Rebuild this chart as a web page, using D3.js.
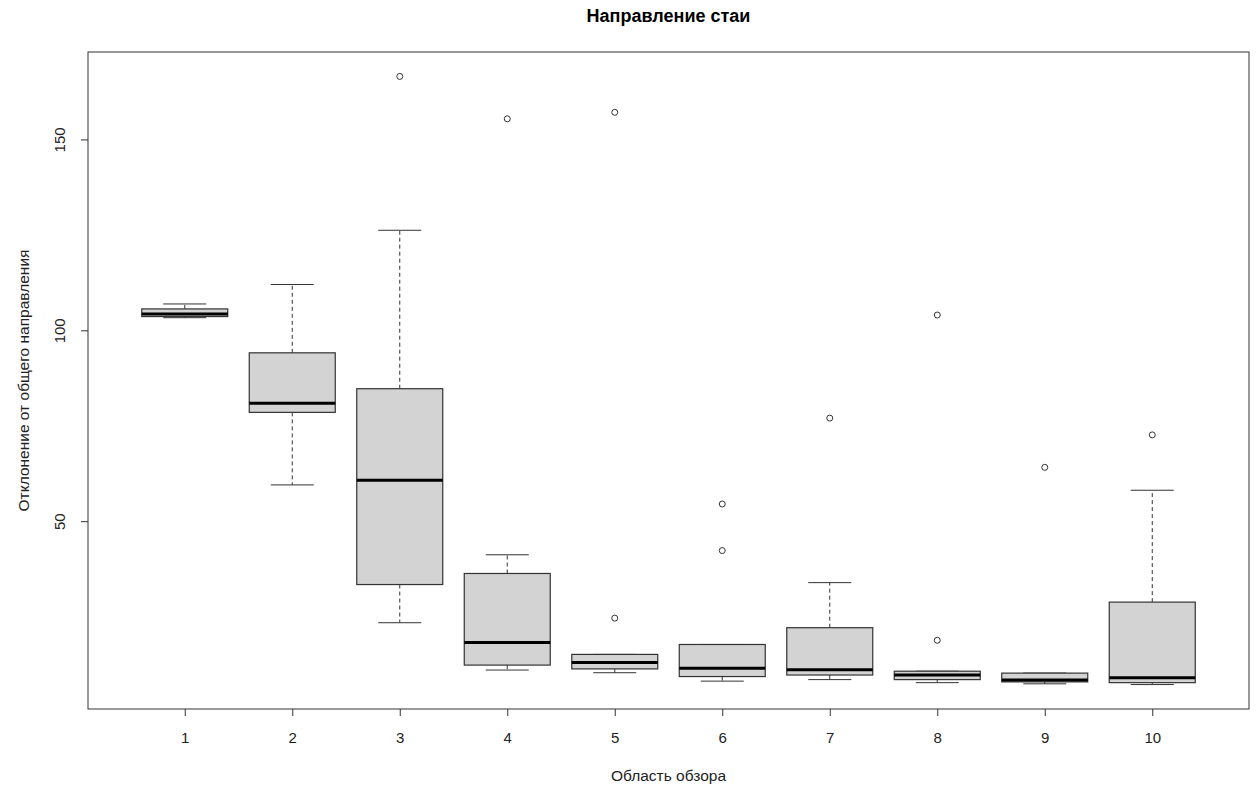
<!DOCTYPE html>
<html lang="ru">
  <head>
    <meta charset="UTF-8" />
    <script src="https://cdn.jsdelivr.net/npm/d3@7"></script>
    <title>Направление стаи</title>
    <style>
      body {
        margin: 0;
        background: white;
      }
      text {
        font-family: "Liberation Sans", Arial, sans-serif;
        fill: #222;
      }
    </style>
  </head>
  <body>
    <script>
      // ---- data ----
      const areas = ["1", "2", "3", "4", "5", "6", "7", "8", "9", "10"];
      const lowerWhisker = [103.3, 59.5, 23.4, 11.0, 10.3, 8.1, 8.5, 7.7, 7.4, 7.2];
      const q1 = [103.6, 78.5, 33.4, 12.3, 11.3, 9.3, 9.7, 8.5, 7.9, 7.7];
      const median = [104.3, 80.9, 60.7, 18.2, 13.0, 11.5, 11.1, 9.7, 8.4, 9.0];
      const q3 = [105.6, 94.1, 84.7, 36.3, 15.1, 17.7, 22.1, 10.7, 10.2, 28.8];
      const upperWhisker = [106.9, 112.0, 126.2, 41.2, 15.1, 17.7, 33.9, 10.7, 10.2, 58.1];
      const outliers = [[], [], [166.5], [155.4], [157.1, 24.6], [54.5, 42.3], [77.0], [104.0, 18.8], [64.1], [72.6]];
      const yTicks = [50, 100, 150];

      const width = 1258, height = 785;
      const plot = { left: 88, right: 1249, top: 52, bottom: 709 };

      const svg = d3.select("body").append("svg")
        .attr("width", width).attr("height", height);

      // R style: x range 0.5..n+0.5 extended by 4%
      const x = d3.scaleLinear().domain([0.1, 10.9]).range([plot.left, plot.right]);
      const y = d3.scaleLinear().domain([0.8, 172.9]).range([plot.bottom, plot.top]);

      const boxW = (x(2) - x(1)) * 0.8;
      const capW = boxW / 2;

      const boxes = areas.map((a, i) => ({
        name: a, pos: i + 1,
        lo: lowerWhisker[i], q1: q1[i], med: median[i], q3: q3[i], hi: upperWhisker[i],
        out: outliers[i]
      }));

      const g = svg.append("g");
      const stroke = "#333";

      const box = g.selectAll("g.box").data(boxes).enter().append("g").attr("class", "box");

      // whiskers (dashed)
      box.append("line")
        .attr("x1", d => x(d.pos)).attr("x2", d => x(d.pos))
        .attr("y1", d => y(d.q3)).attr("y2", d => y(d.hi))
        .attr("stroke", stroke).attr("stroke-dasharray", "4,3");
      box.append("line")
        .attr("x1", d => x(d.pos)).attr("x2", d => x(d.pos))
        .attr("y1", d => y(d.q1)).attr("y2", d => y(d.lo))
        .attr("stroke", stroke).attr("stroke-dasharray", "4,3");

      // caps
      box.append("line")
        .attr("x1", d => x(d.pos) - capW / 2).attr("x2", d => x(d.pos) + capW / 2)
        .attr("y1", d => y(d.hi)).attr("y2", d => y(d.hi))
        .attr("stroke", stroke);
      box.append("line")
        .attr("x1", d => x(d.pos) - capW / 2).attr("x2", d => x(d.pos) + capW / 2)
        .attr("y1", d => y(d.lo)).attr("y2", d => y(d.lo))
        .attr("stroke", stroke);

      // boxes
      box.append("rect")
        .attr("x", d => x(d.pos) - boxW / 2)
        .attr("width", boxW)
        .attr("y", d => y(d.q3))
        .attr("height", d => y(d.q1) - y(d.q3))
        .attr("fill", "#d3d3d3")
        .attr("stroke", stroke).attr("stroke-width", 1.2);

      // medians
      box.append("line")
        .attr("x1", d => x(d.pos) - boxW / 2).attr("x2", d => x(d.pos) + boxW / 2)
        .attr("y1", d => y(d.med)).attr("y2", d => y(d.med))
        .attr("stroke", "black").attr("stroke-width", 3);

      // outliers
      box.selectAll("circle").data(d => d.out.map(v => ({ pos: d.pos, v })))
        .enter().append("circle")
        .attr("cx", d => x(d.pos)).attr("cy", d => y(d.v))
        .attr("r", 3).attr("fill", "none").attr("stroke", stroke);

      // frame
      svg.append("rect")
        .attr("x", plot.left).attr("y", plot.top)
        .attr("width", plot.right - plot.left).attr("height", plot.bottom - plot.top)
        .attr("fill", "none").attr("stroke", stroke);

      // x axis
      const xAxis = svg.append("g")
        .attr("transform", `translate(0,${plot.bottom})`)
        .call(d3.axisBottom(x).tickValues(d3.range(1, 11)).tickFormat(d => areas[d - 1]).tickSize(7));
      xAxis.select(".domain").remove();
      xAxis.selectAll("line").attr("stroke", stroke);
      xAxis.selectAll("text")
        .attr("y", 34).attr("dy", null)
        .attr("font-size", 15).style("fill", "#222");

      // y axis (labels rotated, R default)
      const yAxis = svg.append("g")
        .attr("transform", `translate(${plot.left},0)`)
        .call(d3.axisLeft(y).tickValues(yTicks).tickSize(7).tickFormat(d3.format("d")));
      yAxis.select(".domain").remove();
      yAxis.selectAll("line").attr("stroke", stroke);
      yAxis.selectAll("text")
        .attr("x", null).attr("dy", null)
        .attr("text-anchor", "middle")
        .attr("font-size", 15).style("fill", "#222")
        .attr("transform", "translate(-23,0) rotate(-90)");

      // titles
      svg.append("text")
        .attr("x", (plot.left + plot.right) / 2).attr("y", 22)
        .attr("text-anchor", "middle")
        .attr("font-size", 18).attr("font-weight", "bold")
        .style("fill", "black")
        .text("Направление стаи");

      svg.append("text")
        .attr("x", (plot.left + plot.right) / 2).attr("y", 781)
        .attr("text-anchor", "middle")
        .attr("font-size", 15.5)
        .text("Область обзора");

      svg.append("text")
        .attr("transform", `translate(29,${(plot.top + plot.bottom) / 2}) rotate(-90)`)
        .attr("text-anchor", "middle")
        .attr("font-size", 15.5)
        .text("Отклонение от общего направления");
    </script>
  </body>
</html>
